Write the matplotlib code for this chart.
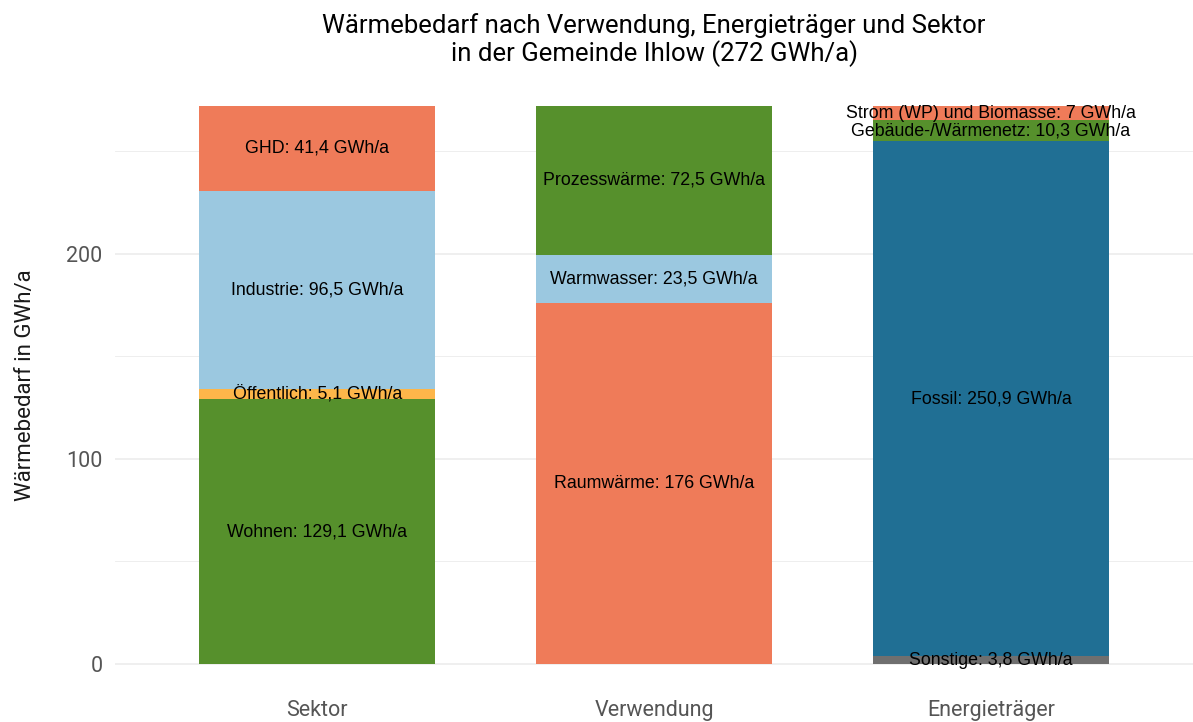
import numpy as np
import matplotlib.pyplot as plt

groups = ['Sektor', 'Verwendung', 'Energieträger']

# segments per group, bottom to top
sektor_labels = ['Wohnen', 'Öffentlich', 'Industrie', 'GHD']
sektor_values = [129.1, 5.1, 96.5, 41.4]
sektor_colors = ['#56902c', '#fdb64a', '#9bc8e0', '#ef7b59']

verw_labels = ['Raumwärme', 'Warmwasser', 'Prozesswärme']
verw_values = [176, 23.5, 72.5]
verw_colors = ['#ef7b59', '#9bc8e0', '#56902c']

etr_labels = ['Sonstige', 'Fossil', 'Gebäude-/Wärmenetz', 'Strom (WP) und Biomasse']
etr_values = [3.8, 250.9, 10.3, 7]
etr_colors = ['#6f6f6f', '#206f94', '#56902c', '#ef7b59']

stacks = [
    (sektor_labels, sektor_values, sektor_colors),
    (verw_labels, verw_values, verw_colors),
    (etr_labels, etr_values, etr_colors),
]


def fmt(v):
    s = f'{v:g}'
    return s.replace('.', ',')


fig = plt.figure(figsize=(11.93, 7.22), dpi=100)
ax = fig.add_axes([0.0964, 0.0416, 0.9036, 0.8504])

for i, (labels, values, colors) in enumerate(stacks):
    bottom = 0
    for lab, val, col in zip(labels, values, colors):
        ax.bar(i + 1, val, bottom=bottom, width=0.7, color=col, zorder=2)
        ax.text(i + 1, bottom + val / 2, f'{lab}: {fmt(val)} GWh/a',
                ha='center', va='center', fontsize=12.8,
                family='Liberation Sans', color='black', zorder=3)
        bottom += val

ax.set_xlim(0.4, 3.6)
ax.set_ylim(-0.05 * 272, 272 * 1.05)
ax.set_yticks([0, 100, 200])
ax.set_yticks([50, 150, 250], minor=True)
ax.set_xticks([1, 2, 3])
ax.set_xticklabels(groups)
ax.grid(axis='y', which='major', color='#ebebeb', linewidth=1.1, zorder=0)
ax.grid(axis='y', which='minor', color='#ebebeb', linewidth=0.6, zorder=0)
ax.set_axisbelow(True)
for s in ax.spines.values():
    s.set_visible(False)
ax.tick_params(axis='both', which='both', length=0, labelsize=15.5,
               labelcolor='#555555')
ax.tick_params(axis='y', pad=9)
ax.tick_params(axis='x', pad=6)
for t in ax.get_xticklabels() + ax.get_yticklabels():
    t.set_family('Roboto')
ax.set_ylabel('Wärmebedarf in GWh/a', fontsize=16, family='Roboto',
              color='#1a1a1a', labelpad=22)
ax.set_title('Wärmebedarf nach Verwendung, Energieträger und Sektor\n'
             'in der Gemeinde Ihlow (272 GWh/a)',
             fontsize=18.5, family='Roboto', color='black', pad=12,
             linespacing=1.1)

fig.savefig('out.png', dpi=100)
